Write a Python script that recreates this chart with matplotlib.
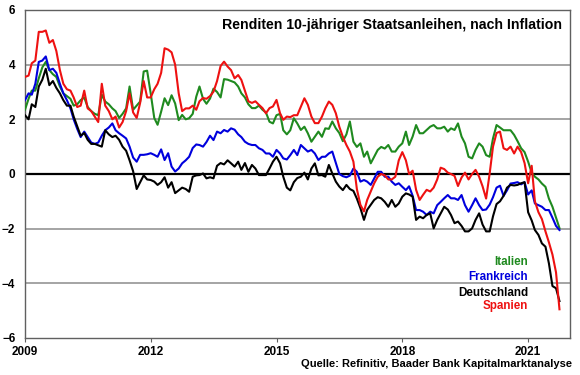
import matplotlib
matplotlib.use('Agg')
import matplotlib.pyplot as plt
import matplotlib.dates as mdates
import pandas as pd

plt.rcParams['font.family'] = ['Liberation Sans', 'DejaVu Sans']
plt.rcParams['font.weight'] = 'bold'

# monatliche Werte, Jan 2009 - Okt 2021
months = pd.date_range('2009-01-01', periods=154, freq='MS')

spanien = [
    3.55, 3.6, 4.05, 4.15, 5.2, 5.2, 5.25, 4.8, 4.9, 4.5, 3.8, 3.3,
    3.1, 3.05, 2.8, 2.45, 2.5, 3.05, 2.4, 2.3, 2.1, 1.9, 3.3, 2.5,
    2.3, 2.0, 2.1, 1.7, 1.9, 2.3, 2.95, 2.25, 2.05, 2.6, 3.4, 2.8,
    2.8, 3.1, 3.3, 3.7, 4.6, 4.55, 4.45, 4.0, 2.95, 2.3, 2.4, 2.4,
    2.5, 2.35, 2.66, 2.78, 2.75, 2.85, 3.01, 3.4, 3.95, 4.11, 3.93, 3.8,
    3.5, 3.62, 3.44, 3.05, 2.66, 2.6, 2.66, 2.53, 2.41, 2.22, 2.41, 2.47,
    2.71, 2.22, 1.98, 2.1, 2.08, 2.15, 2.15, 2.46, 2.77, 2.53, 2.1, 1.86,
    1.86, 2.1, 2.4, 2.65, 2.53, 2.22, 1.73, 1.36, 1.06, 0.82, 0.45, -0.55,
    -1.13, -1.37, -0.95, -0.64, -0.34, -0.1, 0.0, -0.05, -0.2, -0.2, -0.1, 0.5,
    0.8, 0.5, 0.0, 0.12, -0.58, -0.95, -0.76, -0.58, -0.64, -0.5, -0.2, 0.23,
    0.18, 0.05, 0.0, -0.07, -0.44, -0.13, 0.05, -0.2, 0.0, 0.15, -0.1, -0.45,
    -0.9, 0.02, 1.0, 1.5, 1.55, 0.94, 0.88, 1.0, 0.75, 1.0, 0.8, 0.4,
    -0.34, 0.3, -1.0, -1.4, -1.65, -2.1, -2.5, -2.95, -3.6, -4.95,
]

italien = [
    2.35, 2.75, 3.05, 3.05, 3.5, 3.9, 4.1, 3.8, 3.65, 3.55, 3.2, 2.95,
    2.85, 2.75, 2.5, 2.55, 2.7, 2.8, 2.45, 2.3, 2.2, 2.15, 2.9, 2.65,
    2.55, 2.4, 2.3, 2.05, 2.2, 2.4, 3.2, 2.35, 2.5, 2.65, 3.75, 3.78,
    2.95, 2.05, 1.8, 2.28, 2.77, 2.52, 2.88, 2.58, 1.97, 2.16, 2.0, 2.04,
    2.2, 2.83, 3.2, 2.75, 2.57, 2.76, 3.12, 3.0, 2.8, 3.47, 3.45, 3.4,
    3.35, 3.2, 2.95, 2.8, 2.55, 2.41, 2.41, 2.5, 2.35, 2.25, 1.91, 1.85,
    2.15, 2.2, 1.6, 1.45, 1.6, 2.04, 1.85, 1.61, 1.73, 1.49, 1.18, 1.36,
    1.55, 1.36, 1.67, 1.65, 1.92, 1.67, 1.5, 1.2, 1.45, 1.92, 1.18, 0.99,
    1.12, 0.63, 0.82, 0.39, 0.63, 0.88, 0.99, 0.93, 1.06, 0.82, 0.82, 1.0,
    1.12, 1.55, 1.06, 1.37, 1.79, 1.49, 1.49, 1.61, 1.73, 1.79, 1.67, 1.67,
    1.73, 1.55, 1.67, 1.61, 1.85, 1.37, 1.12, 0.63, 0.57, 0.88, 1.12, 1.0,
    0.69, 0.63, 1.3, 1.79, 1.7, 1.6, 1.6, 1.6, 1.43, 1.2, 0.94, 0.8,
    0.45, 0.05, -0.1, -0.2, -0.35, -0.47, -0.9, -1.2, -1.6, -1.98,
]

frankreich = [
    2.7, 2.95, 2.9, 3.3, 4.1, 4.15, 4.3, 3.8, 3.85, 3.7, 3.3, 2.95,
    2.7, 2.4, 2.0, 1.65, 1.35, 1.55, 1.35, 1.15, 1.1, 1.15, 1.4, 1.6,
    1.7, 1.85, 1.6, 1.49, 1.4, 1.3, 1.0, 0.6, 0.45, 0.7, 0.7, 0.72,
    0.76, 0.7, 0.63, 0.9, 0.51, 0.76, 0.27, 0.09, 0.2, 0.39, 0.5, 0.63,
    0.95, 1.08, 1.06, 1.0, 1.17, 1.4, 1.24, 1.55, 1.49, 1.61, 1.55, 1.67,
    1.62, 1.45, 1.35, 1.18, 1.1, 1.06, 1.06, 0.94, 0.88, 0.75, 0.75, 0.63,
    0.88, 0.75, 0.57, 0.53, 0.69, 0.88, 0.69, 1.06, 0.94, 0.82, 0.88, 0.75,
    0.51, 0.63, 0.63, 0.75, 0.82, 0.4, 0.0, -0.08, -0.12, -0.06, 0.2, 0.08,
    -0.28, -0.22, -0.28, -0.4, -0.16, 0.08, 0.08, -0.1, -0.1, -0.28, -0.4, -0.34,
    -0.47, -0.59, -0.45, -0.8, -1.32, -1.32, -1.38, -1.5, -1.38, -1.44, -1.14, -1.02,
    -0.89, -0.77, -0.89, -0.89, -0.95, -0.77, -1.14, -1.38, -1.14, -0.89, -1.14, -1.32,
    -1.3, -1.12, -0.85, -0.5, -0.43, -0.8, -0.6, -0.35, -0.33, -0.3, -0.38, -0.3,
    -0.75, -0.6, -1.08, -1.14, -1.2, -1.32, -1.32, -1.6, -1.9, -2.05,
]

deutschland = [
    2.15, 2.0, 2.55, 2.45, 3.2, 3.45, 3.85, 3.25, 3.4, 3.15, 2.95, 2.7,
    2.5, 2.5, 2.1, 1.75, 1.4, 1.5, 1.25, 1.1, 1.1, 1.05, 1.0, 1.6,
    1.45, 1.35, 1.4, 1.25, 1.0, 0.85, 0.5, 0.1, -0.55, -0.3, -0.05, -0.2,
    -0.22, -0.28, -0.4, -0.3, -0.12, -0.5, -0.3, -0.7, -0.6, -0.5, -0.55, -0.65,
    -0.1, -0.05, -0.04, 0.02, -0.16, -0.12, -0.16, 0.3, 0.4, 0.35, 0.5, 0.39,
    0.27, 0.45, 0.15, 0.4, 0.08, 0.33, 0.2, -0.04, -0.04, -0.04, 0.2, 0.45,
    0.63, 0.39, -0.1, -0.5, -0.6, -0.3, -0.15, -0.1, 0.05, -0.2, 0.2, 0.39,
    -0.05, -0.04, -0.1, 0.33, 0.02, -0.28, -0.46, -0.59, -0.4, -0.55, -0.62, -0.9,
    -1.25, -1.68, -1.31, -1.13, -0.95, -0.85, -0.89, -1.02, -1.2, -0.95, -1.2, -1.08,
    -0.83, -0.71, -0.75, -0.83, -1.68, -1.56, -1.62, -1.5, -1.44, -1.99, -1.68, -1.44,
    -1.2, -1.3, -1.5, -1.8, -1.74, -1.9, -2.1, -2.1, -1.99, -1.68, -1.44, -1.85,
    -2.1, -2.1, -1.55, -1.1, -1.0, -0.8, -0.5, -0.4, -0.42, -0.4, -0.34, -0.3,
    -1.4, -1.7, -2.05, -2.23, -2.54, -2.66, -3.27, -4.1, -4.18, -4.65,
]

serien = [
    ('Italien', italien, '#1f8a1f'),
    ('Frankreich', frankreich, '#0000dd'),
    ('Deutschland', deutschland, '#000000'),
    ('Spanien', spanien, '#ee1111'),
]

fig = plt.figure(figsize=(5.8, 3.75), dpi=100)
ax = fig.add_axes([0.0431, 0.0987, 0.9397, 0.8747])

for y in [-4, -2, 2, 4]:
    ax.axhline(y, color='#8c8c8c', lw=1.1, zorder=1)
ax.axhline(0, color='black', lw=1.6, zorder=2)

for name, vals, col in serien:
    ax.plot(months, vals, color=col, lw=1.5, zorder=3)

ax.set_ylim(-6, 6)
ax.set_yticks(range(-6, 7, 2))
ax.set_xlim(pd.Timestamp('2009-01-01'), pd.Timestamp('2022-01-01'))
ax.set_xticks([pd.Timestamp(f'{y}-01-01') for y in [2009, 2012, 2015, 2018, 2021]])
ax.xaxis.set_major_formatter(mdates.DateFormatter('%Y'))
ax.tick_params(axis='y', length=0, pad=7, labelsize=8.5)
ax.tick_params(axis='x', length=3, width=0.8, color='#606060', pad=3, labelsize=8.5)
for s in ax.spines.values():
    s.set_color('#606060')
    s.set_linewidth(1.0)

ax.text(0.985, 0.955, 'Renditen 10-jähriger Staatsanleihen, nach Inflation',
        transform=ax.transAxes, ha='right', va='center', fontsize=10.2,
        fontweight='bold')

# Legende als farbige Texte
leg_y = [0.232, 0.186, 0.138, 0.099]
for (name, vals, col), yy in zip(serien, leg_y):
    ax.text(0.923, yy, name, transform=ax.transAxes, ha='right', va='center',
            fontsize=8.4, fontweight='bold', color=col)

fig.text(0.987, 0.030, 'Quelle: Refinitiv, Baader Bank Kapitalmarktanalyse',
         ha='right', va='center', fontsize=8, fontweight='bold')

plt.savefig('out.png', dpi=100)
